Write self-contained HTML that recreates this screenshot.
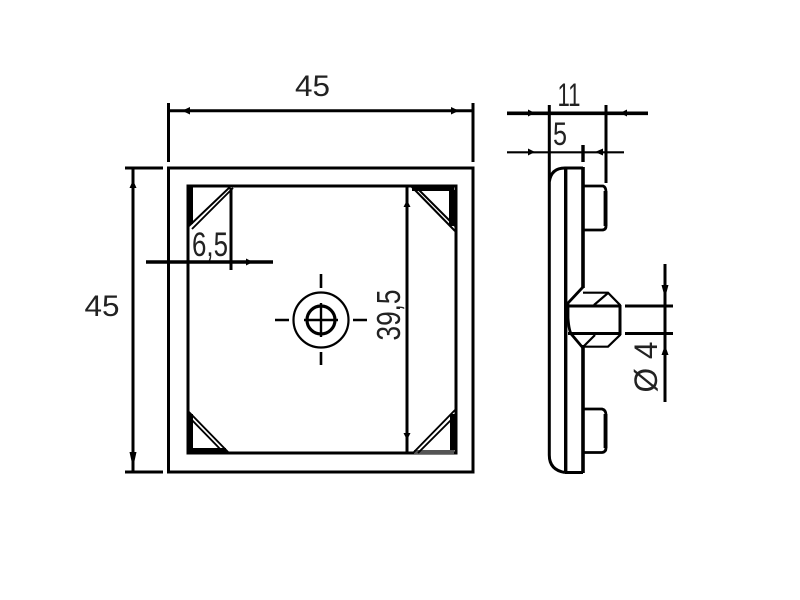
<!DOCTYPE html>
<html><head><meta charset="utf-8"><style>html,body{margin:0;padding:0;background:#fff}svg{display:block}text{font-family:"Liberation Sans",sans-serif;fill:#222}</style></head><body>
<svg width="800" height="600" viewBox="0 0 800 600" xmlns="http://www.w3.org/2000/svg">
<rect width="800" height="600" fill="#fff"/>
<g fill="none" stroke="#000" stroke-width="3">
<!-- front view -->
<rect x="168.5" y="168" width="304.5" height="304"/>
<rect x="188" y="186" width="268" height="267" stroke-width="3"/>
<!-- corners -->
<path d="M190 186v38" stroke-width="6"/>
<path d="M412 188h42M452 190v36" stroke-width="6"/>
<path d="M190 452v-38M190 451h36" stroke-width="6"/>
<path d="M453 450v-36" stroke-width="6"/>
<path d="M414 452h40" stroke-width="4" stroke="#555"/>
<path d="M189 226L231 186M192 229L233 188" stroke-width="1.9"/>
<path d="M411 186L455 231M415 186L455 226" stroke-width="2"/>
<path d="M188 411L229 453M188 416L224 453" stroke-width="1.9"/>
<path d="M413 453L455 410M418 453L455 416" stroke-width="1.9"/>
<!-- dims front -->
<path d="M168.5 103V162M473 103V162M168 110.8H473M125 168H163M125 472H163M133 168V472"/>
<path d="M231 188V270"/>
<path d="M146 262H273" stroke-width="3.4"/>
<path d="M407 186V453"/>
<!-- centre -->
<circle cx="321" cy="320" r="27.5" stroke-width="2.2"/>
<circle cx="321" cy="320" r="14" stroke-width="3.2"/>
<path d="M304 320H338M321 303V337" stroke-width="2.4"/>
<path d="M275 320H289M353 320H367M321 274V288M321 352V365" stroke-width="2.6"/>
<!-- side view -->
<path d="M549.3 105V182M549.3 182V455Q549.3 470 565 472.5M549.3 182Q551 168 565 168"/>
<path d="M565.7 168V472.5" stroke-width="3.4"/>
<path d="M565 168H583M565 472.5H583" stroke-width="3"/>
<path d="M583 167V288M583 345V473" stroke-width="3.6"/>
<path d="M583 186H603Q606 187 606 192V226Q606 230 602 230H583M583 409H602Q606 410 606 415V448Q606 452 602 452.5H583" stroke-width="2.8"/>
<path d="M605.5 191V226M605.5 414V448" stroke-width="3.8"/>
<path d="M606 105V183"/>
<path d="M507 113.3H648" stroke-width="3.6"/>
<path d="M507 152.3H624" stroke-width="2.2"/>
<path d="M583 145V162" stroke-width="3.4"/>
<!-- centre pin -->
<path d="M583 287L568 303V318Q569 332 572 335L583 348" stroke-width="2.8"/>
<path d="M583 292.7H608L620 305V335L608 346.7H583" stroke-width="2.2"/>
<path d="M620 305V335" stroke-width="3"/>
<path d="M568 306H620M568 333.5H620" stroke-width="3"/>
<path d="M594 305L608 293M584 346L595 335" stroke-width="2.2"/>
<path d="M625 306H673M625 333.5H673" stroke-width="3"/>
<path d="M665 264V402"/>
</g>
<g fill="#000">
<path d="M182 110.8L190 107V114.5ZM459 110.8L451 107V114.5Z"/>
<path d="M133 180L129.5 188H136.5ZM133 468L129.5 452H136.5Z"/>
<path d="M407 200L403.5 207H410.5ZM407 440L403.5 433H410.5Z"/>
<path d="M253 262L246 258.5V265.5Z"/>
<path d="M535 113L528 109.5V116.5ZM620 113L627 109.5V116.5ZM535 152L528 148.5V155.5ZM595 152L603 148.5V155.5Z"/>
<path d="M665 298L661.5 285H668.5ZM665 345L661.5 355H668.5Z"/>
</g>
<text x="312.5" y="96" font-size="30" text-anchor="middle" textLength="35" lengthAdjust="spacingAndGlyphs">45</text>
<text x="102" y="316" font-size="30" text-anchor="middle" textLength="35" lengthAdjust="spacingAndGlyphs">45</text>
<text x="569" y="106" font-size="32" text-anchor="middle" textLength="23" lengthAdjust="spacingAndGlyphs">11</text>
<text x="560" y="145" font-size="32" text-anchor="middle" textLength="14" lengthAdjust="spacingAndGlyphs">5</text>
<text x="210" y="256" font-size="34" text-anchor="middle" textLength="36" lengthAdjust="spacingAndGlyphs">6,5</text>
<text transform="translate(400 315) rotate(-90)" font-size="33" text-anchor="middle" textLength="51" lengthAdjust="spacingAndGlyphs">39,5</text>
<text transform="translate(657 367) rotate(-90)" font-size="32" text-anchor="middle" textLength="51" lengthAdjust="spacingAndGlyphs">Ø 4</text>
</svg>
</body></html>
